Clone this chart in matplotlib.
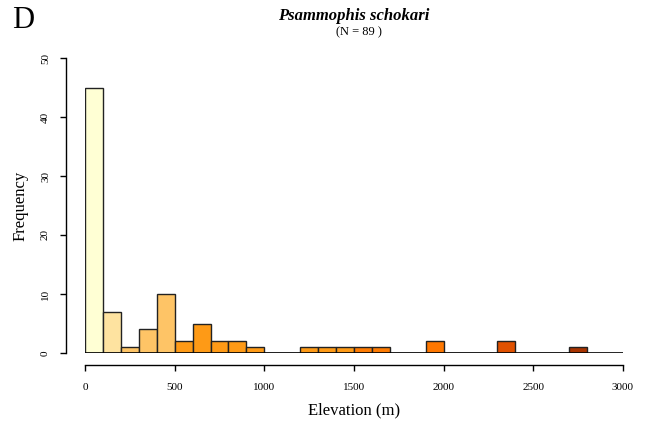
import matplotlib
matplotlib.use("Agg")
import matplotlib.pyplot as plt
import numpy as np

# histogram of elevations, 100 m bins
bin_left = np.arange(0, 2800, 100)
counts = [45, 7, 1, 4, 10, 2, 5, 2, 2, 1,
          0, 0, 1, 1, 1, 1, 1, 0, 0, 2,
          0, 0, 0, 2, 0, 0, 0, 1]
bar_colors = ["#FFFFD4", "#FEE3A0", "#FEC466", "#FEC466", "#FEC466",
              "#FE9A16", "#FE9A16", "#FE9A16", "#FE9A16", "#FE9A16",
              "#FE9A16", "#FE9A16", "#FE9A16", "#FE9A16", "#FE9A16",
              "#FE7B02", "#FE7B02", "#FE7700", "#FE7700", "#FE7700",
              "#E05100", "#E05100", "#E05100", "#E05100", "#A83400",
              "#A83400", "#A83400", "#A83400"]
x_ticks = [0, 500, 1000, 1500, 2000, 2500, 3000]
y_ticks = [0, 10, 20, 30, 40, 50]

plt.rcParams["font.family"] = ["Liberation Serif", "DejaVu Serif"]

W, H = 645, 421
PX = 72 / 100  # points per pixel at dpi 100
fig = plt.figure(figsize=(W / 100, H / 100), dpi=100)
ax = fig.add_axes([85 / W, (H - 353) / H, (623 - 85) / W, (353 - 58) / H])

ax.bar(bin_left, counts, width=100, align="edge", color=bar_colors,
       edgecolor="#222222", linewidth=1.0, zorder=2)
ax.axhline(0, color="black", linewidth=1.2, zorder=3)

ax.set_xlim(0, 3000)
ax.set_ylim(0, 50)

for side in ["top", "right"]:
    ax.spines[side].set_visible(False)
ax.spines["left"].set_position(("outward", 19 * PX))
ax.spines["bottom"].set_position(("outward", 12 * PX))
ax.spines["left"].set_bounds(0, 50)
ax.spines["bottom"].set_bounds(0, 3000)
ax.spines["left"].set_linewidth(1.0)
ax.spines["bottom"].set_linewidth(1.0)

ax.set_xticks(x_ticks)
ax.set_yticks(y_ticks)
ax.tick_params(axis="both", direction="out", length=6 * PX, width=1.0,
               labelsize=8)
ax.tick_params(axis="x", pad=12 * PX)
ax.tick_params(axis="y", pad=10 * PX)
for lbl in ax.get_yticklabels():
    lbl.set_rotation(90)
    lbl.set_va("center")

ax.set_xlabel("Elevation (m)", fontsize=12, labelpad=10 * PX)
ax.set_ylabel("Frequency", fontsize=12, labelpad=12 * PX)

fig.text(354 / W, 1 - 16 / H, "Psammophis schokari", fontsize=12,
         fontweight="bold", style="italic", ha="center", va="center")
fig.text(359 / W, 1 - 32 / H, "(N = 89 )", fontsize=9,
         ha="center", va="center")
fig.text(12 / W, 1 - 20 / H, "D", fontsize=22, ha="left", va="center")

fig.savefig("out.png", dpi=100)
